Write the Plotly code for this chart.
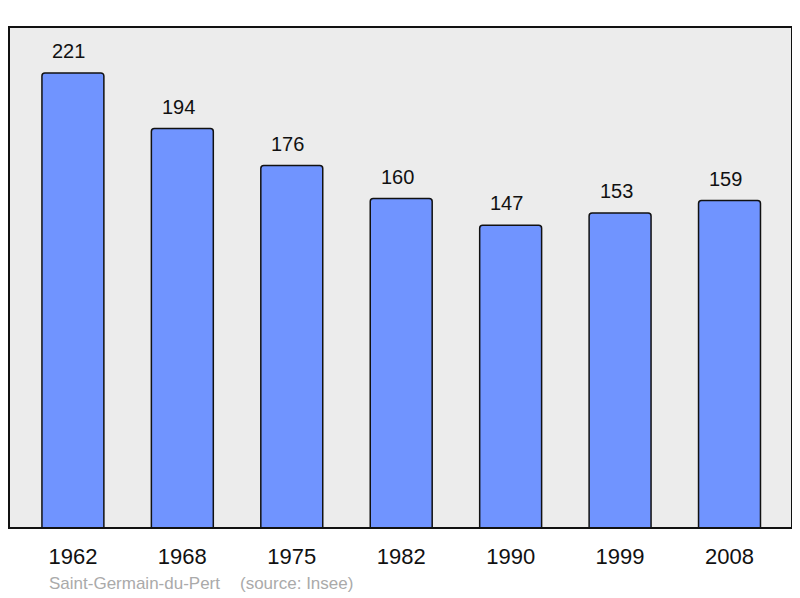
import plotly.graph_objects as go

years = ["1962", "1968", "1975", "1982", "1990", "1999", "2008"]
population = [221, 194, 176, 160, 147, 153, 159]
commune = "Saint-Germain-du-Pert"
source = "(source: Insee)"

# page body adds an 8px offset; compensate
OFF = 8
W, H = 800 - OFF, 598 - OFF
ml, mr, mt, mb = 9 - OFF, 8, 27 - OFF, 70
pw, ph = W - ml - mr, H - mt - mb
plot_left, plot_bottom = 9, 528

fig = go.Figure()
fig.add_trace(go.Bar(
    x=list(range(len(years))), y=population,
    width=0.566,
    marker=dict(color="#7094FF", line=dict(color="#111111", width=1.5), cornerradius=3),
    hoverinfo="skip",
))

for i, v in enumerate(population):
    fig.add_annotation(x=i, y=v, text=str(v), showarrow=False, yanchor="bottom",
                       yshift=9, xshift=-4, font=dict(size=20, color="#111111"))

fig.add_annotation(xref="paper", yref="paper", x=(47 - plot_left) / pw,
                   y=-(583 - plot_bottom) / ph, xanchor="left", yanchor="middle",
                   text=commune, showarrow=False, font=dict(size=17, color="#aaaaaa"))
fig.add_annotation(xref="paper", yref="paper", x=(238 - plot_left) / pw,
                   y=-(583 - plot_bottom) / ph, xanchor="left", yanchor="middle",
                   text=source, showarrow=False, font=dict(size=17, color="#aaaaaa"))

fig.add_shape(type="rect", xref="x domain", yref="y domain", x0=0, y0=0, x1=1, y1=1,
              line=dict(color="#111111", width=2), layer="above")

fig.update_layout(
    width=W, height=H,
    margin=dict(l=ml, r=mr, t=mt, b=mb),
    paper_bgcolor="white", plot_bgcolor="#ececec",
    font=dict(family="Liberation Sans, Arial, sans-serif", color="#111111"),
    showlegend=False,
    xaxis=dict(range=[-0.584, 6.571], tickvals=list(range(len(years))), ticktext=years,
               showgrid=False, zeroline=False, ticks="", tickfont=dict(size=22),
               ticklabelstandoff=13, fixedrange=True),
    yaxis=dict(range=[0, 243.3], showgrid=False, zeroline=False, showticklabels=False,
               ticks="", fixedrange=True),
)

fig.write_html("out.html")
